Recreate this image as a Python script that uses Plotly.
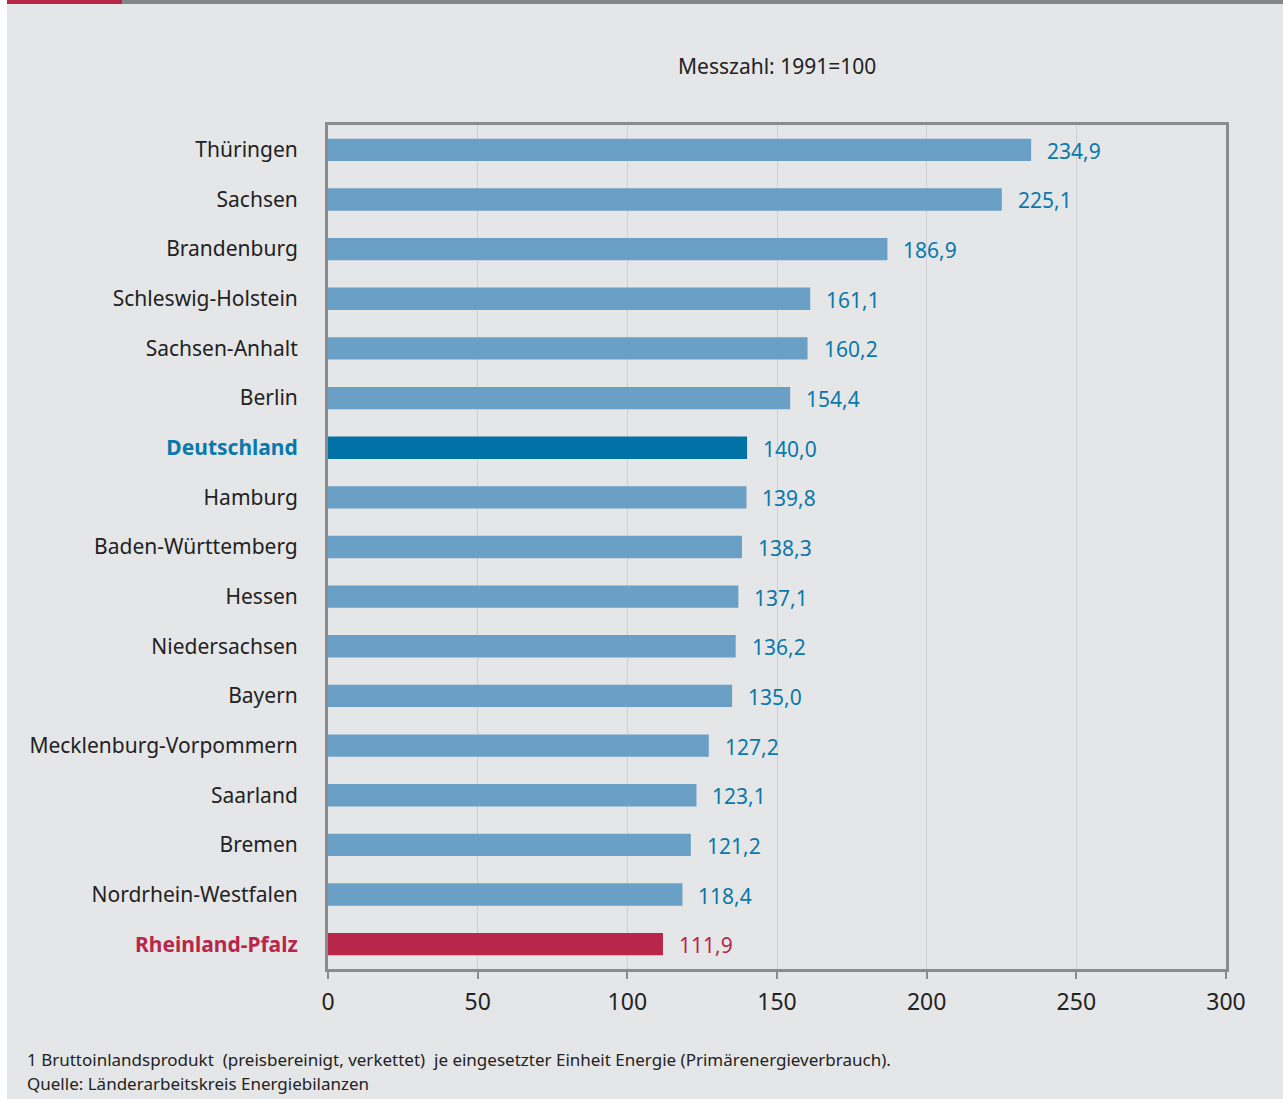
import plotly.graph_objects as go

categories = ["Thüringen", "Sachsen", "Brandenburg", "Schleswig-Holstein", "Sachsen-Anhalt",
              "Berlin", "Deutschland", "Hamburg", "Baden-Württemberg", "Hessen",
              "Niedersachsen", "Bayern", "Mecklenburg-Vorpommern", "Saarland", "Bremen",
              "Nordrhein-Westfalen", "Rheinland-Pfalz"]
values = [234.9, 225.1, 186.9, 161.1, 160.2, 154.4, 140.0, 139.8, 138.3, 137.1,
          136.2, 135.0, 127.2, 123.1, 121.2, 118.4, 111.9]
x_ticks = [0, 50, 100, 150, 200, 250, 300]

LIGHT = "#6a9fc6"
DE = "#0073a6"
RED = "#b8264a"
LABEL_BLUE = "#0a78aa"

colors = []
label_colors = []
ticktext = []
for c in categories:
    if c == "Deutschland":
        colors.append(DE); label_colors.append(LABEL_BLUE)
        ticktext.append(f"<b><span style='color:{LABEL_BLUE}'>{c}</span></b>")
    elif c == "Rheinland-Pfalz":
        colors.append(RED); label_colors.append(RED)
        ticktext.append(f"<b><span style='color:{RED}'>{c}</span></b>")
    else:
        colors.append(LIGHT); label_colors.append(LABEL_BLUE)
        ticktext.append(c)

FONT = "Noto Sans"
fig = go.Figure()
fig.add_trace(go.Bar(
    y=categories, x=values, orientation="h",
    marker=dict(color=colors, line=dict(width=0)),
    width=0.45, hoverinfo="skip"
))

annotations = []
for c, v, lc in zip(categories, values, label_colors):
    annotations.append(dict(
        x=v, y=c, xref="x", yref="y", text=f"{v:.1f}".replace(".", ","),
        showarrow=False, xanchor="left", yanchor="middle", xshift=14, yshift=-1,
        font=dict(family=FONT, size=21, color=lc)
    ))

# title
annotations.append(dict(
    x=0.5, y=1.0, xref="paper", yref="paper", xanchor="center", yanchor="bottom",
    xshift=0, yshift=43, text="Messzahl: 1991=100", showarrow=False,
    font=dict(family=FONT, size=21, color="#222")
))
# footer
footer_lines = [
    "1 Bruttoinlandsprodukt  (preisbereinigt, verkettet)  je eingesetzter Einheit Energie (Primärenergieverbrauch).",
    "Quelle: Länderarbeitskreis Energiebilanzen",
]
for i, line in enumerate(footer_lines):
    annotations.append(dict(
        x=0, y=0, xref="paper", yref="paper", xanchor="left", yanchor="middle",
        xshift=-303, yshift=-(1059 - 969) - 24 * i, align="left", showarrow=False,
        text=line, font=dict(family=FONT, size=17, color="#222")
    ))

PW = 898.0
PH = 844.0
def px(xpx):
    return (xpx - 328) / PW
def py(ypx):
    return 1 - (ypx - 125) / PH

shapes = [
    dict(type="rect", xref="paper", yref="paper", x0=px(0), x1=px(7), y0=py(1099), y1=py(0),
         fillcolor="white", line=dict(width=0), layer="below"),
    dict(type="rect", xref="paper", yref="paper", x0=px(7), x1=px(122), y0=py(4), y1=py(0),
         fillcolor="#b8264a", line=dict(width=0)),
    dict(type="rect", xref="paper", yref="paper", x0=px(122), x1=px(1283), y0=py(4), y1=py(0),
         fillcolor="#85868a", line=dict(width=0)),
]

fig.update_layout(
    width=1283, height=1099,
    margin=dict(l=328, r=57, t=125, b=130),
    paper_bgcolor="#e5e6e8", plot_bgcolor="#e5e6e8",
    showlegend=False, bargap=0.55,
    font=dict(family=FONT, size=21, color="#222"),
    annotations=annotations, shapes=shapes,
    xaxis=dict(range=[0, 300], tickvals=x_ticks, ticktext=[str(t) for t in x_ticks],
               showgrid=True, gridcolor="#cfd0d3", gridwidth=1, zeroline=False,
               showline=True, linecolor="#8a8b8e", linewidth=3, mirror=True,
               ticks="outside", ticklen=7, tickwidth=2, tickcolor="#8a8b8e",
               ticklabelstandoff=3,
               tickfont=dict(family=FONT, size=23, color="#222"), fixedrange=True),
    yaxis=dict(categoryorder="array", categoryarray=categories,
               tickvals=categories, ticktext=ticktext, autorange=False, range=[16.5, -0.5],
               showgrid=False, zeroline=False,
               showline=True, linecolor="#8a8b8e", linewidth=3, mirror=True,
               ticks="", ticklabelstandoff=23,
               tickfont=dict(family=FONT, size=21, color="#222"), fixedrange=True),
)

fig.write_html("out.html", config={"displayModeBar": False},
               post_script="document.body.style.margin='0';document.body.style.padding='0';")
